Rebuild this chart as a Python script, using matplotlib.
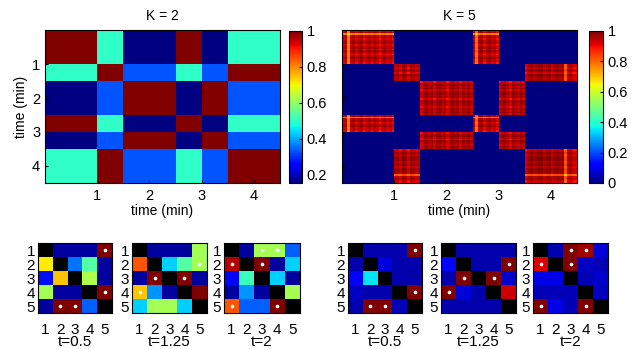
import matplotlib
matplotlib.use('Agg')
import matplotlib.pyplot as plt
import numpy as np

plt.rcParams['font.family'] = ['Liberation Sans', 'DejaVu Sans']
plt.rcParams['font.size'] = 10

# segments of the recording (minutes) and the state each one belongs to
seg_edges = [0, 1, 1.5, 2.5, 3, 3.5, 4.5]
seg_state = [0, 1, 2, 0, 2, 1]

# K = 2 : similarity between the three states
sim_k2 = [[1.0, 0.50, 0.155],
          [0.50, 1.0, 0.33],
          [0.155, 0.33, 1.0]]

# K = 5 : per-sample weights (0.05 min steps), plaid texture inside blocks
w_A = [0.96, 0.98, 0.80, 0.97, 0.99, 0.95, 0.98, 1.0, 0.94, 0.97,
       0.99, 0.95, 1.0, 0.97, 0.93, 0.98, 1.0, 0.96, 0.98, 0.94]
w_B = [0.97, 0.99, 0.95, 1.0, 0.98, 0.94, 1.0, 0.98, 0.96, 0.98]
w_C = [0.94, 0.99, 1.0, 0.97, 1.0, 0.95, 0.99, 1.0, 0.97, 0.99,
       0.94, 0.99, 1.0, 0.98, 1.0, 0.95, 0.99, 0.97, 1.0, 0.96]
w_D = [0.98, 0.82, 0.97, 1.0, 0.94, 0.98, 1.0, 0.96, 0.98, 0.94]
w_E = [0.95, 0.99, 1.0, 0.97, 0.94, 1.0, 0.98, 0.96, 1.0, 0.97]
w_F = [0.94, 0.98, 1.0, 0.97, 0.99, 1.0, 1.0, 0.97, 0.99, 1.0,
       0.96, 0.99, 1.0, 0.98, 1.0, 0.84, 0.97, 0.99, 0.95, 0.94]

# small 5x5 matrices (diagonal left blank) and the marked cells
t_labels = ['t=0.5', 't=1.25', 't=2']
small_k2 = [
    [[0, 0.03, 0.03, 0.03, 1.0],
     [0.66, 0, 0.24, 0.45, 0.03],
     [0.14, 0.70, 0, 0.56, 0.03],
     [0.55, 0.03, 0.03, 0, 1.0],
     [0.03, 1.0, 1.0, 0.22, 0]],
    [[0, 0.03, 0.03, 0.03, 0.55],
     [0.82, 0, 0.33, 0.45, 0.55],
     [0.03, 1.0, 0, 1.0, 0.03],
     [0.70, 0.27, 0.03, 0, 1.0],
     [0.33, 0.55, 0.55, 0.33, 0]],
    [[0, 0.03, 0.55, 0.55, 0.22],
     [0.95, 0, 1.0, 0.03, 0.33],
     [0.13, 0.42, 0, 0.33, 0.03],
     [0.03, 0.27, 0.03, 0, 0.55],
     [0.82, 0.22, 0.22, 1.0, 0]],
]
small_k5 = [
    [[0, 0.04, 0.04, 0.04, 1.0],
     [0.04, 0, 0.08, 0.04, 0.04],
     [0.12, 0.35, 0, 0.04, 0.04],
     [0.06, 0.04, 0.04, 0, 1.0],
     [0.04, 1.0, 1.0, 0.05, 0]],
    [[0, 0.04, 0.04, 0.04, 0.04],
     [0.13, 0, 0.04, 0.04, 1.0],
     [0.04, 1.0, 0, 1.0, 0.07],
     [1.0, 0.08, 0.04, 0, 0.93],
     [0.04, 0.04, 0.04, 0.04, 0]],
    [[0, 0.04, 1.0, 0.97, 0.08],
     [0.92, 0, 1.0, 0.06, 0.05],
     [0.09, 0.09, 0, 0.05, 0.07],
     [0.05, 0.05, 0.05, 0, 0.06],
     [1.0, 0.09, 0.05, 1.0, 0]],
]
dots_k2 = [
    [(1, 5), (4, 5), (5, 2), (5, 3)],
    [(2, 5), (3, 2), (3, 4), (4, 1)],
    [(1, 3), (1, 4), (2, 1), (2, 3), (5, 1), (5, 4)],
]
dots_k5 = [
    [(1, 5), (4, 5), (5, 2), (5, 3)],
    [(2, 5), (3, 2), (3, 4), (4, 1)],
    [(1, 3), (1, 4), (2, 1), (2, 3), (5, 1), (5, 4)],
]

W = 632
H = 349
fig = plt.figure(figsize=(W / 100, H / 100), dpi=100)


def px_axes(x0, y0, x1, y1):
    return fig.add_axes([x0 / W, 1 - y1 / H, (x1 - x0) / W, (y1 - y0) / H])


# --- K = 2 ---
ax1 = px_axes(45, 30, 280, 183)
n = len(seg_state)
m2 = np.array([[sim_k2[seg_state[i]][seg_state[j]] for j in range(n)] for i in range(n)])
pc = ax1.pcolormesh(seg_edges, seg_edges, m2, cmap='jet', vmin=0.155, vmax=1)
ax1.set_xlim(0, 4.5)
ax1.set_ylim(4.5, 0)
ax1.set_xticks([1, 2, 3, 4])
ax1.set_yticks([1, 2, 3, 4])
ax1.tick_params(direction='in', length=2.5, labelsize=10.5)
ax1.tick_params(axis='x', pad=4)
ax1.set_title('K = 2', fontsize=10, pad=7)
ax1.set_xlabel('time (min)', labelpad=1)
ax1.set_ylabel('time (min)', labelpad=3)
cax1 = px_axes(289, 31, 302, 183)
cb1 = fig.colorbar(pc, cax=cax1, ticks=[0.2, 0.4, 0.6, 0.8, 1])
cb1.ax.set_yticklabels(['0.2', '0.4', '0.6', '0.8', '1'])
cb1.ax.tick_params(direction='in', length=2, labelsize=10.5)

# --- K = 5 ---
ax2 = px_axes(342, 30, 577, 183)
w_all = [w_A, w_B, w_C, w_D, w_E, w_F]
w = np.concatenate([np.array(x) for x in w_all])
st = np.concatenate([[seg_state[k]] * len(w_all[k]) for k in range(n)])
m5 = np.where(st[:, None] == st[None, :], np.outer(w, w), 0.0)
im = ax2.imshow(m5, cmap='jet', vmin=0, vmax=1, extent=[0, 4.5, 4.5, 0],
                aspect='auto', interpolation='nearest')
ax2.set_xticks([1, 2, 3, 4])
ax2.set_yticks([1, 2, 3, 4])
ax2.set_yticklabels([])
ax2.tick_params(direction='in', length=2.5, labelsize=10.5)
ax2.tick_params(axis='x', pad=4)
ax2.set_title('K = 5', fontsize=10, pad=7)
ax2.set_xlabel('time (min)', labelpad=1)
cax2 = px_axes(589, 31, 603, 183)
cb2 = fig.colorbar(im, cax=cax2, ticks=[0, 0.2, 0.4, 0.6, 0.8, 1])
cb2.ax.set_yticklabels(['0', '0.2', '0.4', '0.6', '0.8', '1'])
cb2.ax.tick_params(direction='in', length=2, labelsize=10.5)

# --- small matrices ---
small_x = [(38, 112), (132, 207), (224, 300), (348, 422), (441, 516), (533, 608)]
mats = small_k2 + small_k5
dots = dots_k2 + dots_k5
cmap = plt.get_cmap('jet').copy()
cmap.set_bad('black')
for k, (x0, x1) in enumerate(small_x):
    ax = px_axes(x0, 243, x1, 313)
    a = np.array(mats[k], dtype=float)
    a = np.ma.masked_where(np.eye(5, dtype=bool), a)
    ax.imshow(a, cmap=cmap, vmin=0, vmax=1, aspect='auto',
              extent=[0.5, 5.5, 5.5, 0.5], interpolation='nearest')
    r = [p[0] for p in dots[k]]
    c = [p[1] for p in dots[k]]
    ax.plot(c, r, 'o', color='white', ms=2.6, mec='none')
    ax.set_xticks([1, 2, 3, 4, 5])
    ax.set_yticks([1, 2, 3, 4, 5])
    ax.tick_params(length=0, labelsize=11, pad=2)
    ax.tick_params(axis='x', pad=7)
    ax.set_xlabel(t_labels[k % 3], fontsize=11, labelpad=-1)

fig.savefig('out.png', dpi=100)
